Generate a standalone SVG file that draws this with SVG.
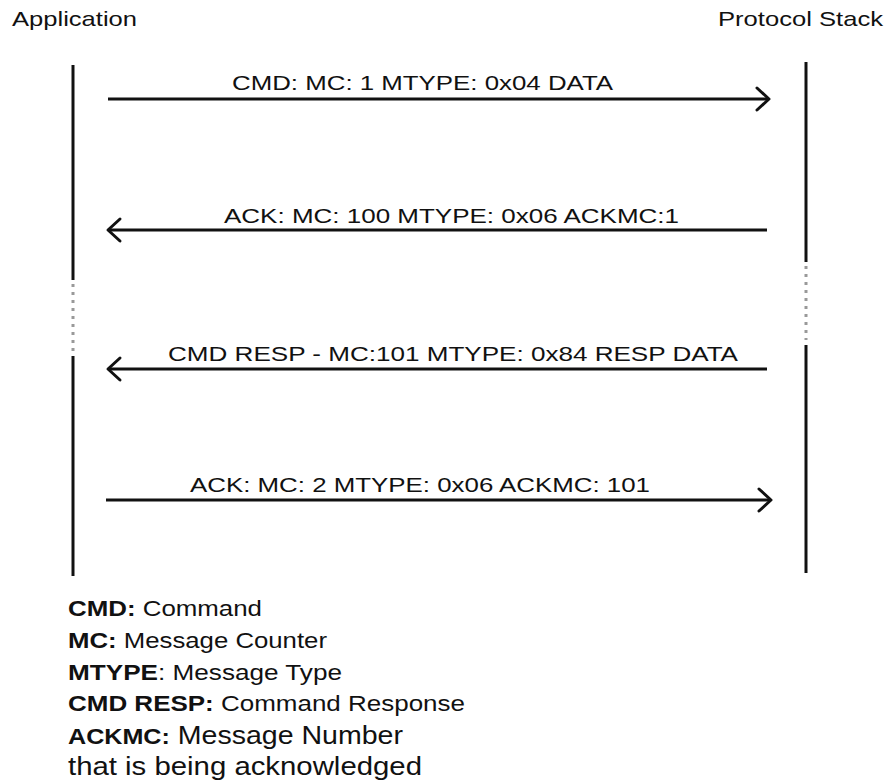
<svg xmlns="http://www.w3.org/2000/svg" width="888" height="782" viewBox="0 0 888 782">
<style>
text{font-family:"Liberation Sans",Arial,sans-serif;fill:#111}
.t{font-size:21px}
.life{stroke:#111;stroke-width:3;fill:none}
.dot{stroke:#999;stroke-width:3;stroke-dasharray:3 5;fill:none}
.msg{stroke:#111;stroke-width:3;fill:none}
.head{stroke:#111;stroke-width:3;fill:none;stroke-linecap:round;stroke-linejoin:round}
.leg{font-size:22px}
.b{font-weight:bold}
</style>
<rect width="888" height="782" fill="#fff"/>
<g id="app">
<text class="t" x="12" y="26" textLength="125" lengthAdjust="spacingAndGlyphs">Application</text>
<line class="life" x1="73" y1="65" x2="73" y2="280"/>
<line class="dot" x1="73" y1="284" x2="73" y2="352"/>
<line class="life" x1="73" y1="356" x2="73" y2="576"/>
</g>
<g id="stack">
<text class="t" x="718" y="26" textLength="165" lengthAdjust="spacingAndGlyphs">Protocol Stack</text>
<line class="life" x1="806" y1="62" x2="806" y2="262"/>
<line class="dot" x1="806" y1="266" x2="806" y2="340"/>
<line class="life" x1="806" y1="345" x2="806" y2="573"/>
</g>
<g id="connectors">
<g id="m1">
<line class="msg" x1="108" y1="99" x2="769" y2="99"/>
<polyline class="head" points="757,88 769,99 757,110"/>
<text class="t" x="232" y="90" textLength="381" lengthAdjust="spacingAndGlyphs">CMD: MC: 1 MTYPE: 0x04 DATA</text>
</g>
<g id="m2">
<line class="msg" x1="767" y1="230" x2="108" y2="230"/>
<polyline class="head" points="120,219 108,230 120,241"/>
<text class="t" x="224" y="223" textLength="455" lengthAdjust="spacingAndGlyphs">ACK: MC: 100 MTYPE: 0x06 ACKMC:1</text>
</g>
<g id="m3">
<line class="msg" x1="767" y1="369" x2="108" y2="369"/>
<polyline class="head" points="120,358 108,369 120,380"/>
<text class="t" x="168" y="361" textLength="570" lengthAdjust="spacingAndGlyphs">CMD RESP - MC:101 MTYPE: 0x84 RESP DATA</text>
</g>
<g id="m4">
<line class="msg" x1="106" y1="500" x2="771" y2="500"/>
<polyline class="head" points="759,489 771,500 759,511"/>
<text class="t" x="190" y="492" textLength="460" lengthAdjust="spacingAndGlyphs">ACK: MC: 2 MTYPE: 0x06 ACKMC: 101</text>
</g>
</g>
<g id="legend">
<text class="leg" x="68" y="616" textLength="194" lengthAdjust="spacingAndGlyphs"><tspan class="b">CMD:</tspan> Command</text>
<text class="leg" x="68" y="648" textLength="259" lengthAdjust="spacingAndGlyphs"><tspan class="b">MC:</tspan> Message Counter</text>
<text class="leg" x="68" y="680" textLength="274" lengthAdjust="spacingAndGlyphs"><tspan class="b">MTYPE</tspan>: Message Type</text>
<text class="leg" x="68" y="711" textLength="397" lengthAdjust="spacingAndGlyphs"><tspan class="b">CMD RESP:</tspan> Command Response</text>
<text x="68" y="744" textLength="335" lengthAdjust="spacingAndGlyphs"><tspan class="b" style="font-size:22px">ACKMC:</tspan><tspan style="font-size:25px"> Message Number</tspan></text>
<text x="68" y="775" style="font-size:25px" textLength="354" lengthAdjust="spacingAndGlyphs">that is being acknowledged</text>
</g>
</svg>
